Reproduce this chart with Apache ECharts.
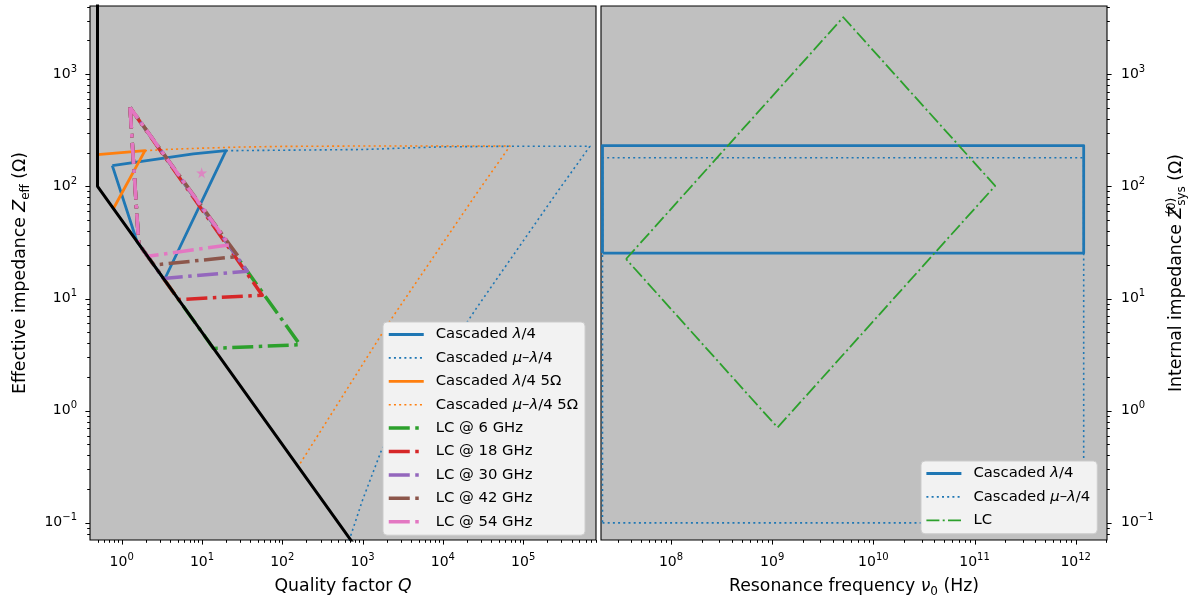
<!DOCTYPE html>
<html><head><meta charset="utf-8">
<script src="https://cdn.jsdelivr.net/npm/echarts@6/dist/echarts.min.js"></script>
<style>html,body{margin:0;padding:0;background:#fff}#c{width:1199px;height:603px}</style>
</head><body><div id="c"></div><script>
// ================= DATA =================
// ---- Left panel: effective impedance Z_eff (Ω) vs quality factor Q ----
const boundQ = [0.5, 0.5, 1000];
const boundZ = [1e4, 100, 0.05];

const casQ = [0.764, 1.86, 7.8, 19.9, 3.4, 1.55, 0.764];
const casZ = [153, 168, 195, 208, 14.7, 32.2, 153];

const casMuQ = [19.9, 100, 1000, 3000, 1e4, 1e5, 6.79e5, 2.61e5, 2.64e4, 1729, 1000, 683, 640];
const casMuZ = [208, 210, 213, 219, 225, 228, 228, 87.5, 8.27, 0.449, 0.16, 0.0703, 0.061];

const cas5Q = [0.5, 1.95, 0.79];
const cas5Z = [192, 208, 63.5];

const casMu5Q = [1.95, 4, 10, 30, 100, 1000, 6.85e4, 2.71e4, 2194, 163];
const casMu5Z = [208, 214, 219, 224, 227, 229, 229, 89.2, 6.31, 0.329];

const lc6Q  = [1.27, 1.63, 13.9, 166, 1.27];
const lc6Z  = [505, 30.7, 3.59, 3.87, 505];
const lc18Q = [1.27, 1.63, 5.11, 56.3, 1.27];
const lc18Z = [505, 30.7, 9.78, 10.7, 505];
const lc30Q = [1.27, 1.63, 3.31, 36.7, 1.27];
const lc30Z = [505, 30.7, 15.1, 17.5, 505];
const lc42Q = [1.27, 1.63, 2.52, 28.3, 1.27];
const lc42Z = [505, 30.7, 19.9, 23.7, 505];
const lc54Q = [1.27, 1.63, 2.1, 21.9, 1.27];
const lc54Z = [505, 30.7, 23.8, 30.1, 505];

const starQ = [9.9];
const starZ = [132];

// ---- Right panel: internal impedance Z_sys (Ω) vs resonance frequency ν0 (Hz) ----
const rectNu   = [2.1e7, 1.2e12, 1.2e12, 2.1e7, 2.1e7];
const casRectZ = [25.4, 25.4, 231, 231, 25.4];
const muRectZ  = [0.1, 0.1, 180, 180, 0.1];
const lcNu     = [3.59e7, 5.04e9, 1.6e11, 1.13e9, 3.59e7];
const lcSysZ   = [22.5, 3220, 101, 0.708, 22.5];

// ---- Axis limits and tick decades ----
const qRange  = [0.403, 8.07e5];
const zRange  = [0.0703, 4055];
const nuRange = [2.03e7, 2.04e12];
const qDecades  = [0.1, 1, 10, 100, 1e3, 1e4, 1e5];
const zDecades  = [0.01, 0.1, 1, 10, 100, 1000];
const nuDecades = [1e7, 1e8, 1e9, 1e10, 1e11, 1e12];

const leftNames  = ['Cascaded λ/4', 'Cascaded μ–λ/4', 'Cascaded λ/4 5Ω', 'Cascaded μ–λ/4 5Ω',
                    'LC @ 6 GHz', 'LC @ 18 GHz', 'LC @ 30 GHz', 'LC @ 42 GHz', 'LC @ 54 GHz'];
const rightNames = ['Cascaded λ/4', 'Cascaded μ–λ/4', 'LC'];

// ================= CHART =================
const FF = 'DejaVu Sans';
const C = {blue:'#1f77b4', orange:'#ff7f0e', green:'#2ca02c', red:'#d62728',
           purple:'#9467bd', brown:'#8c564b', pink:'#e377c2'};
const zip = (a, b) => a.map((v, i) => [v, b[i]]);

function tickList(decades, range) {
  const out = [];
  decades.forEach(d => {
    for (let m = 1; m <= 9; m++) {
      const v = m * d;
      if (v > range[0] * 1.0001 && v < range[1] / 1.0001) out.push([v, m === 1 ? 1 : 0]);
    }
  });
  return out;
}
function xTicks(list, gi, yVal) {
  return {type:'custom', xAxisIndex:gi, yAxisIndex:gi, silent:true, clip:false, z:10,
    data: list.map(t => [t[0], yVal, t[1]]),
    renderItem(params, api) {
      const p = api.coord([api.value(0), api.value(1)]);
      const cs = params.coordSys;
      const len = api.value(2) ? 4.6 : 2.8;
      const x = Math.round(p[0]) + 0.5, y0 = cs.y + cs.height;
      return {type:'line', shape:{x1:x, y1:y0, x2:x, y2:y0 + len}, style:{stroke:'#000', lineWidth:1}};
    }};
}
function yTicks(list, gi, xVal, right) {
  return {type:'custom', xAxisIndex:gi, yAxisIndex:gi, silent:true, clip:false, z:10,
    data: list.map(t => [xVal, t[0], t[1]]),
    renderItem(params, api) {
      const p = api.coord([api.value(0), api.value(1)]);
      const cs = params.coordSys;
      const len = api.value(2) ? 4.6 : 2.8;
      const y = Math.round(p[1]) + 0.5;
      const x0 = right ? cs.x + cs.width : cs.x;
      const x1 = right ? x0 + len : x0 - len;
      return {type:'line', shape:{x1:x0, y1:y, x2:x1, y2:y}, style:{stroke:'#000', lineWidth:1}};
    }};
}
function decadeLabel(v) {
  const e = Math.log10(v), r = Math.round(e);
  if (Math.abs(e - r) > 1e-6) return '';
  return '{b|10}{s|' + (r < 0 ? '\u2212' + (-r) : r) + '}';
}
const labelRich = {
  b:{fontFamily:FF, fontSize:14, lineHeight:20, color:'#000'},
  s:{fontFamily:FF, fontSize:10, lineHeight:10, verticalAlign:'top', color:'#000'}
};
const NF = 17.3;
const nameStyle = {
  fontFamily:FF, fontSize:NF, color:'#000', lineHeight:22,
  rich:{
    n:{fontFamily:FF, fontSize:NF, lineHeight:22, color:'#000'},
    i:{fontFamily:FF, fontSize:NF, lineHeight:22, fontStyle:'italic', color:'#000'},
    sub:{fontFamily:FF, fontSize:12, lineHeight:13, verticalAlign:'bottom', color:'#000'},
    supw:{fontFamily:FF, fontSize:12, lineHeight:13, verticalAlign:'top', align:'left', width:1, color:'#000'}
  }
};
function logAxis(gi, range, extra) {
  return Object.assign({type:'log', logBase:10, gridIndex:gi, min:range[0], max:range[1],
    axisLine:{show:false}, axisTick:{show:false}, splitLine:{show:false}, minorTick:{show:false},
    nameLocation:'middle', nameTextStyle:nameStyle}, extra);
}
const italicize = name => name.replace(/[λμ]/g, c => '{i|' + c + '}');
const LF = 14.8;
function legendBox(names, left, top) {
  return {data:names, orient:'vertical', left:left, top:top, itemWidth:35, itemHeight:14,
    itemGap:8.4, padding:[5,7,6,4], backgroundColor:'#f2f2f2', borderColor:'#cbcbcb',
    borderWidth:1, borderRadius:4, selectedMode:false, formatter:italicize,
    lineStyle:{width:'inherit'},
    itemStyle:{opacity:0, color:'rgba(0,0,0,0)', borderWidth:0},
    textStyle:{fontFamily:FF, fontSize:LF, lineHeight:14, color:'#000', padding:[0,0,0,7],
      rich:{i:{fontFamily:FF, fontSize:LF, lineHeight:14, fontStyle:'italic', color:'#000'}}}};
}
function ln(name, q, z, color, width, type, gi, extra) {
  return Object.assign({name:name, type:'line', xAxisIndex:gi, yAxisIndex:gi, data:zip(q, z),
    symbol:'none', showSymbol:false, clip:true, smooth:false,
    lineStyle:{color:color, width:width, type:type, join:'round'}, itemStyle:{color:color},
    emphasis:{disabled:true}}, extra || {});
}
const dot = [2, 3.2];
const lcDash = [21, 5.5, 3.5, 5.5];

const option = {
  animation:false,
  backgroundColor:'#ffffff',
  grid:[
    {left:90, top:6, width:506, height:538, show:true, backgroundColor:'#c0c0c0', borderColor:'#000', borderWidth:1.1},
    {left:601, top:6, width:506, height:538, show:true, backgroundColor:'#c0c0c0', borderColor:'#000', borderWidth:1.1}
  ],
  xAxis:[
    logAxis(0, qRange, {name:'{n|Quality factor }{i|Q}', nameGap:36,
      axisLabel:{formatter:decadeLabel, rich:labelRich, margin:12}}),
    logAxis(1, nuRange, {name:'{n|Resonance frequency }{i|ν}{sub|0}{n| (Hz)}', nameGap:36,
      axisLabel:{formatter:decadeLabel, rich:labelRich, margin:12}})
  ],
  yAxis:[
    logAxis(0, zRange, {name:'{n|Effective impedance }{i|Z}{sub|eff}{n| (Ω)}', nameGap:58,
      axisLabel:{formatter:decadeLabel, rich:labelRich, margin:13}}),
    logAxis(1, zRange, {position:'right', name:'{n|Internal impedance }{i|Z}{supw|(0)}{sub|sys}{n| (Ω)}', nameGap:59,
      axisLabel:{formatter:decadeLabel, rich:labelRich, margin:14}})
  ],
  legend:[ legendBox(leftNames, 383, 322), legendBox(rightNames, 921, 461) ],
  series:[
    ln(leftNames[0], casQ, casZ, C.blue, 2.8, 'solid', 0),
    ln(leftNames[1], casMuQ, casMuZ, C.blue, 1.6, dot, 0),
    ln(leftNames[2], cas5Q, cas5Z, C.orange, 2.8, 'solid', 0),
    ln(leftNames[3], casMu5Q, casMu5Z, C.orange, 1.6, dot, 0),
    ln(leftNames[4], lc6Q, lc6Z, C.green, 3.5, lcDash, 0),
    ln(leftNames[5], lc18Q, lc18Z, C.red, 3.5, lcDash, 0),
    ln(leftNames[6], lc30Q, lc30Z, C.purple, 3.5, lcDash, 0),
    ln(leftNames[7], lc42Q, lc42Z, C.brown, 3.5, lcDash, 0),
    ln(leftNames[8], lc54Q, lc54Z, C.pink, 3.5, lcDash, 0),
    {type:'scatter', xAxisIndex:0, yAxisIndex:0, data:zip(starQ, starZ), silent:true,
     symbol:'path://M50,0 L61,35 L98,35 L68,57 L79,91 L50,70 L21,91 L32,57 L2,35 L39,35 Z',
     symbolSize:11, itemStyle:{color:C.pink}},
    ln('', boundQ, boundZ, '#000000', 3, 'solid', 0, {z:4}),
    ln(rightNames[0], rectNu, casRectZ, C.blue, 2.8, 'solid', 1),
    ln(rightNames[1], rectNu, muRectZ, C.blue, 1.6, dot, 1),
    ln(rightNames[2], lcNu, lcSysZ, C.green, 1.8, [13, 3.3, 2, 3.3], 1),
    xTicks(tickList(qDecades, qRange), 0, 1),
    yTicks(tickList(zDecades, zRange), 0, 1, false),
    xTicks(tickList(nuDecades, nuRange), 1, 1),
    yTicks(tickList(zDecades, zRange), 1, 1e10, true)
  ]
};
const chart = echarts.init(document.getElementById('c'), null, {renderer:'canvas'});
chart.setOption(option);
</script></body></html>
